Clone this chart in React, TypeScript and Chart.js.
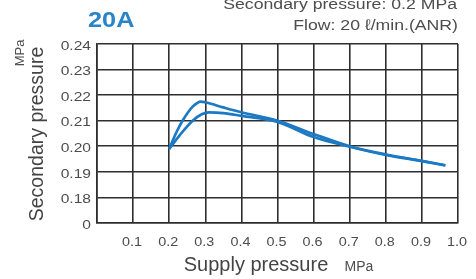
import React, { useEffect, useRef } from "react";
import { Chart, registerables } from "chart.js";

Chart.register(...registerables);

// ---- data ----
const supplyUpper = [0.2, 0.22, 0.237, 0.265, 0.288, 0.3, 0.35, 0.4, 0.5, 0.6, 0.7, 0.8, 0.9, 0.965];
const secondaryUpper = [0.199, 0.2055, 0.21, 0.2155, 0.2175, 0.2172, 0.2152, 0.2133, 0.21, 0.2048, 0.2, 0.1968, 0.1943, 0.1926];
const supplyLower = [0.2, 0.23, 0.265, 0.29, 0.31, 0.35, 0.4, 0.5, 0.6, 0.7, 0.8, 0.9, 0.965];
const secondaryLower = [0.199, 0.2045, 0.21, 0.2125, 0.2133, 0.213, 0.2119, 0.2095, 0.2036, 0.1998, 0.1966, 0.1942, 0.1925];

const xTickValues = [0, 0.1, 0.2, 0.3, 0.4, 0.5, 0.6, 0.7, 0.8, 0.9, 1.0];
const xTickLabels = ["", "0.1", "0.2", "0.3", "0.4", "0.5", "0.6", "0.7", "0.8", "0.9", "1.0"];
const yTickValues = [0.17, 0.18, 0.19, 0.2, 0.21, 0.22, 0.23, 0.24];
const yTickLabels = ["0", "0.18", "0.19", "0.20", "0.21", "0.22", "0.23", "0.24"];

const titleText = "20A";
const conditionLine1 = "Secondary pressure: 0.2 MPa";
const conditionLine2 = "Flow: 20 \u2113/min.(ANR)";
const yTitle = "Secondary pressure";
const yUnit = "MPa";
const xTitle = "Supply pressure";
const xUnit = "MPa";

const FONT = "'Liberation Sans', Arial, Helvetica, sans-serif";

function drawText(
  ctx: CanvasRenderingContext2D,
  text: string,
  x: number,
  y: number,
  o: { size: number; weight?: string; color: string; align?: CanvasTextAlign; stretch?: number; rotate?: number; baseline?: CanvasTextBaseline }
) {
  ctx.save();
  ctx.translate(x, y);
  if (o.rotate) ctx.rotate(o.rotate);
  ctx.scale(o.stretch ?? 1, 1);
  ctx.font = `${o.weight ?? "normal"} ${o.size}px ${FONT}`;
  ctx.fillStyle = o.color;
  ctx.textAlign = o.align ?? "left";
  ctx.textBaseline = o.baseline ?? "alphabetic";
  ctx.fillText(text, 0, 0);
  ctx.restore();
}

const textPlugin = {
  id: "textPlugin",
  afterDraw(chart: any) {
    const ctx: CanvasRenderingContext2D = chart.ctx;
    const xs = chart.scales.x;
    const ys = chart.scales.y;
    // y tick labels
    yTickValues.forEach((v, i) => {
      const py = ys.getPixelForValue(v);
      drawText(ctx, yTickLabels[i], 91, py + 5.7, { size: 13, color: "#4d4d4d", align: "right", stretch: 1.2 });
    });
    // x tick labels
    xTickValues.forEach((v, i) => {
      if (!xTickLabels[i]) return;
      const px = xs.getPixelForValue(v);
      drawText(ctx, xTickLabels[i], px - 1, 246, { size: 12.5, color: "#4d4d4d", align: "center", stretch: 1.15 });
    });
    // header
    drawText(ctx, titleText, 88, 27, { size: 22, weight: "bold", color: "#2a84c8", align: "left", stretch: 1.15 });
    drawText(ctx, conditionLine1, 457, 8.5, { size: 15.5, color: "#4d4d4d", align: "right", stretch: 1.14 });
    drawText(ctx, conditionLine2, 458, 29.5, { size: 15.5, color: "#4d4d4d", align: "right", stretch: 1.14 });
    // axis titles
    drawText(ctx, yTitle, 43, 134, { size: 19.5, color: "#444", align: "center", rotate: -Math.PI / 2 });
    drawText(ctx, yUnit, 24, 53, { size: 13, color: "#4d4d4d", align: "center", rotate: -Math.PI / 2 });
    drawText(ctx, xTitle, 256, 271, { size: 20, color: "#444", align: "center" });
    drawText(ctx, xUnit, 359, 271, { size: 14, color: "#4d4d4d", align: "center" });
  },
};

export default function App() {
  const ref = useRef<HTMLCanvasElement | null>(null);
  useEffect(() => {
    if (!ref.current) return;
    const line = "#1c79c3";
    const chart = new Chart(ref.current, {
      type: "line",
      data: {
        datasets: [
          {
            data: supplyUpper.map((x, i) => ({ x, y: secondaryUpper[i] })),
            borderColor: line,
            borderWidth: 2.7,
            pointRadius: 0,
            cubicInterpolationMode: "monotone",
            fill: false,
          },
          {
            data: supplyLower.map((x, i) => ({ x, y: secondaryLower[i] })),
            borderColor: line,
            borderWidth: 2.7,
            pointRadius: 0,
            cubicInterpolationMode: "monotone",
            fill: false,
          },
        ],
      },
      options: {
        animation: false,
        responsive: false,
        devicePixelRatio: 1,
        layout: { padding: { top: 44, right: 18, bottom: 0, left: 0 } },
        plugins: { legend: { display: false }, tooltip: { enabled: false }, title: { display: false } },
        scales: {
          x: {
            type: "linear",
            min: 0,
            max: 1,
            afterBuildTicks: (s: any) => {
              s.ticks = xTickValues.map((value) => ({ value }));
            },
            afterFit: (s: any) => {
              s.height = 56;
            },
            ticks: { display: false },
            grid: { color: "#2e2e2e", lineWidth: 1.6, drawTicks: false },
            border: { display: true, color: "#2e2e2e", width: 1.6 },
          },
          y: {
            type: "linear",
            min: 0.17,
            max: 0.24,
            afterBuildTicks: (s: any) => {
              s.ticks = yTickValues.map((value) => ({ value }));
            },
            afterFit: (s: any) => {
              s.width = 97;
            },
            ticks: { display: false },
            grid: { color: "#2e2e2e", lineWidth: 1.6, drawTicks: false },
            border: { display: true, color: "#2e2e2e", width: 1.6 },
          },
        },
      },
      plugins: [textPlugin],
    } as any);
    return () => chart.destroy();
  }, []);
  return (
    <div style={{ position: "fixed", left: 0, top: 0, width: 476, height: 279, background: "#fff" }}>
      <canvas ref={ref} width={476} height={279} style={{ width: 476, height: 279, display: "block" }} />
    </div>
  );
}
